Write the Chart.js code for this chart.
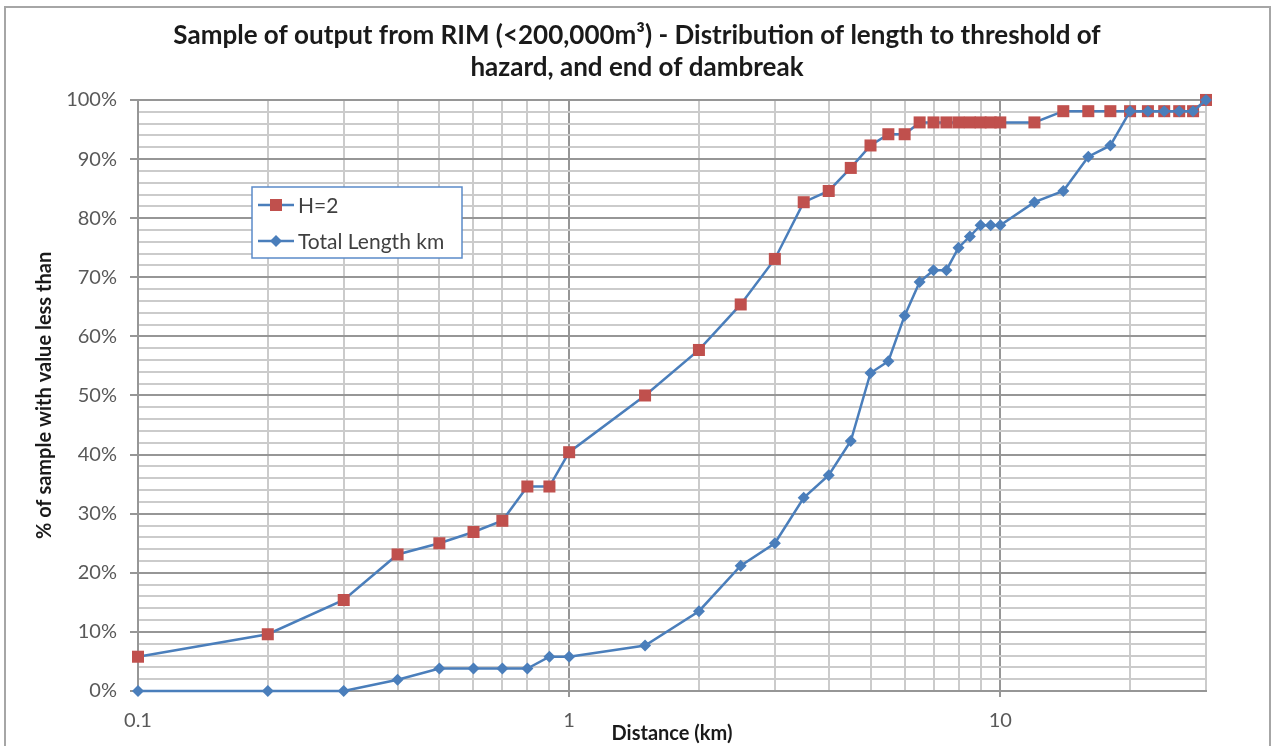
<!DOCTYPE html>
<html>
<head>
<meta charset="utf-8">
<script src="https://cdn.jsdelivr.net/npm/chart.js@4.4.1/dist/chart.umd.min.js"></script>
<style>
  html, body { margin: 0; padding: 0; background: #ffffff; }
  #wrap { position: relative; width: 1274px; height: 746px; }
</style>
</head>
<body>
<div id="wrap"><canvas id="rimChart" width="1274" height="746"></canvas></div>
<script>
// --- data ---
const distances = [0.1, 0.2, 0.3, 0.4, 0.5, 0.6, 0.7, 0.8, 0.9, 1,
    1.5, 2, 2.5, 3, 3.5, 4, 4.5, 5, 5.5, 6, 6.5, 7, 7.5, 8, 8.5, 9, 9.5, 10,
    12, 14, 16, 18, 20, 22, 24, 26, 28, 30];

const h2Values = [5.8, 9.6, 15.4, 23.1, 25.0, 26.9, 28.8, 34.6, 34.6, 40.4,
    50.0, 57.7, 65.4, 73.1, 82.7, 84.6, 88.5, 92.3, 94.2, 94.2, 96.2, 96.2, 96.2, 96.2, 96.2, 96.2, 96.2, 96.2,
    96.2, 98.1, 98.1, 98.1, 98.1, 98.1, 98.1, 98.1, 98.1, 100];

const totalValues = [0, 0, 0, 1.9, 3.8, 3.8, 3.8, 3.8, 5.8, 5.8,
    7.7, 13.5, 21.2, 25.0, 32.7, 36.5, 42.3, 53.8, 55.8, 63.5, 69.2, 71.2, 71.2, 75.0, 76.9, 78.8, 78.8, 78.8,
    82.7, 84.6, 90.4, 92.3, 98.1, 98.1, 98.1, 98.1, 98.1, 100];

// gridline positions on the log axis, and which of them get a label
const xTickValues = [0.1, 0.2, 0.3, 0.4, 0.5, 0.6, 0.7, 0.8, 0.9,
    1, 2, 3, 4, 5, 6, 7, 8, 9, 10, 20, 30];
const xLabelValues = [0.1, 1, 10];

const yTickValues = [];
for (let v = 0; v <= 100; v += 2) yTickValues.push(v);

const LINE_BLUE = '#4a7ebb';
const SQUARE_RED = '#c0504d';
const FONT = 'Lato, "Open Sans", sans-serif';

// === outer frame, like the Excel chart border ===
const framePlugin = {
    id: 'frame',
    beforeDraw(chart) {
        const c = chart.ctx;
        c.save();
        c.fillStyle = '#ffffff';
        c.fillRect(0, 0, chart.width, chart.height);
        c.strokeStyle = '#a6a6a6';
        c.lineWidth = 2;
        c.strokeRect(5, 7, 1265, 760);
        c.restore();
    }
};

// === legend box floating inside the plot (Excel style) ===
const boxLegendPlugin = {
    id: 'boxLegend',
    afterDatasetsDraw(chart) {
        const c = chart.ctx;
        const x = 252, y = 187, w = 210, h = 71;
        c.save();
        c.fillStyle = '#ffffff';
        c.fillRect(x, y, w, h);
        c.strokeStyle = '#5b8bc9';
        c.lineWidth = 1.5;
        c.strokeRect(x, y, w, h);

        chart.data.datasets.forEach((ds, i) => {
            const cy = y + 18 + i * 36;
            c.strokeStyle = ds.borderColor;
            c.lineWidth = 2.5;
            c.beginPath();
            c.moveTo(x + 6, cy);
            c.lineTo(x + 42, cy);
            c.stroke();
            c.fillStyle = ds.pointBackgroundColor;
            if (ds.pointStyle === 'rect') {
                c.fillRect(x + 18, cy - 6, 12, 12);
            } else {
                c.beginPath();
                c.moveTo(x + 24, cy - 6);
                c.lineTo(x + 30, cy);
                c.lineTo(x + 24, cy + 6);
                c.lineTo(x + 18, cy);
                c.closePath();
                c.fill();
            }
            c.fillStyle = '#404040';
            c.font = '21px ' + FONT;
            c.textBaseline = 'middle';
            c.textAlign = 'left';
            c.fillText(ds.label, x + 46, cy + 1);
        });
        c.restore();
    }
};

const toPoints = vals => distances.map((d, i) => ({ x: d, y: vals[i] }));

const ctx = document.getElementById('rimChart').getContext('2d');
const rimChart = new Chart(ctx, {
    type: 'line',
    data: {
        datasets: [{
            label: 'H=2',
            data: toPoints(h2Values),
            borderColor: LINE_BLUE,
            borderWidth: 2.5,
            pointStyle: 'rect',
            pointRadius: 8.5,
            pointBackgroundColor: SQUARE_RED,
            pointBorderColor: SQUARE_RED,
            pointBorderWidth: 0,
            tension: 0,
            clip: false,
            order: 1
        }, {
            label: 'Total Length km',
            data: toPoints(totalValues),
            borderColor: LINE_BLUE,
            borderWidth: 2.5,
            pointStyle: 'rectRot',
            pointRadius: 6,
            pointBackgroundColor: LINE_BLUE,
            pointBorderColor: LINE_BLUE,
            pointBorderWidth: 0,
            tension: 0,
            clip: false,
            order: 0
        }]
    },
    options: {
        responsive: false,
        animation: false,
        events: [],
        layout: { padding: 0 },
        plugins: {
            legend: { display: false },
            tooltip: { enabled: false },
            title: {
                display: true,
                text: ['Sample of output from RIM (<200,000m\u00b3) - Distribution of length to threshold of',
                       'hazard, and end of dambreak'],
                color: '#1a1a1a',
                font: { family: FONT, size: 26, weight: 'bold', lineHeight: 1.23 },
                padding: { top: 20, bottom: 16 }
            }
        },
        scales: {
            x: {
                type: 'logarithmic',
                min: 0.1,
                max: 30,
                afterBuildTicks: scale => { scale.ticks = xTickValues.map(v => ({ value: v })); },
                afterFit: scale => { scale.height = 55; },
                ticks: {
                    autoSkip: false,
                    maxRotation: 0,
                    padding: 12,
                    color: '#595959',
                    font: { family: FONT, size: 20 },
                    callback: v => xLabelValues.includes(v) ? String(v) : ''
                },
                grid: {
                    color: c => (c.tick && (c.tick.value === 1 || c.tick.value === 10)) ? '#969696' : '#cbcbcb',
                    lineWidth: 2,
                    tickLength: 6,
                    tickColor: c => (c.tick && (c.tick.value === 1 || c.tick.value === 10)) ? '#969696' : 'rgba(0,0,0,0)'
                },
                border: { color: '#969696', width: 2 },
                title: {
                    display: true,
                    text: 'Distance (km)',
                    color: '#1a1a1a',
                    font: { family: FONT, size: 20, weight: 'bold', lineHeight: 1.2 },
                    padding: { top: 0, bottom: 0 }
                }
            },
            y: {
                min: 0,
                max: 100,
                afterBuildTicks: scale => { scale.ticks = yTickValues.map(v => ({ value: v })); },
                afterFit: scale => { scale.width = 138; },
                ticks: {
                    autoSkip: false,
                    padding: 13,
                    color: '#595959',
                    font: { family: FONT, size: 20 },
                    callback: v => v % 10 === 0 ? v + '%' : ''
                },
                grid: {
                    color: c => (c.tick && c.tick.value % 10 === 0) ? '#969696' : '#cbcbcb',
                    lineWidth: 2,
                    tickLength: 8,
                    tickColor: c => (c.tick && c.tick.value % 10 === 0) ? '#969696' : 'rgba(0,0,0,0)'
                },
                border: { color: '#969696', width: 2 },
                title: {
                    display: true,
                    text: '% of sample with value less than',
                    color: '#1a1a1a',
                    font: { family: FONT, size: 20, weight: 'bold', lineHeight: 1.2 },
                    padding: { top: 33, bottom: 0 }
                }
            },
            // empty right-hand strip so the plot ends where the reference's does
            yRight: {
                position: 'right',
                display: true,
                afterFit: scale => { scale.width = 68; },
                grid: { display: false },
                border: { display: false },
                ticks: { display: false }
            }
        }
    },
    plugins: [framePlugin, boxLegendPlugin]
});
</script>
</body>
</html>
